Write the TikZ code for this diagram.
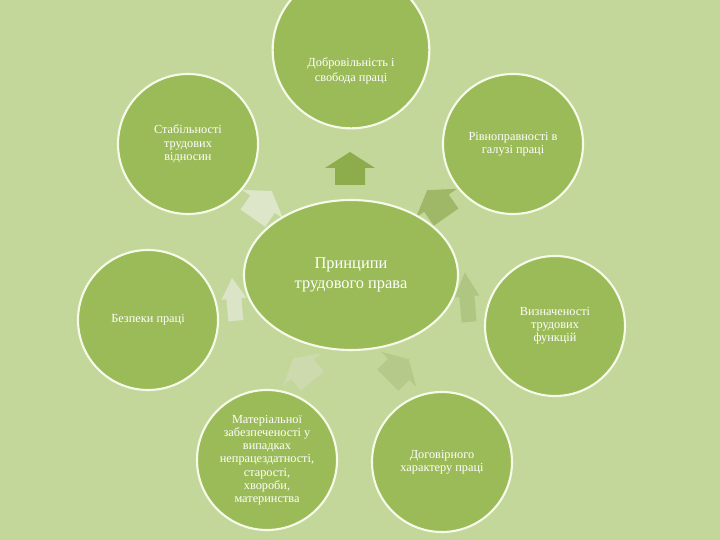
\documentclass[tikz,border=0pt]{standalone}
\usepackage{fontspec}
\setmainfont{Liberation Serif}
\usetikzlibrary{shapes.geometric}
\definecolor{lawbg}{RGB}{196,215,155}
\definecolor{lawgreen}{RGB}{155,187,89}
\definecolor{lawdark}{RGB}{141,172,76}
\definecolor{lawrim}{RGB}{246,250,232}

\tikzset{
  bubble/.style={circle,fill=lawgreen,draw=lawrim,line width=1.8pt,minimum size=4.2cm,
    inner sep=0pt,text=white,align=center,font=\fontsize{10.5}{11.3}\selectfont},
  caption/.style={text=white,align=center,font=\fontsize{10.5}{13.5}\selectfont}
}

\begin{document}
\begin{tikzpicture}[x=0.03cm,y=-0.03cm]
        \fill[lawbg] (0,0) rectangle (720,540);
        \useasboundingbox (0,0) rectangle (720,540);
        % fading arrows round the centre
        \foreach \x/\y/\r/\sx/\sy/\c in {350/169/0/1/1/100, 437/204/35/1/1/85, 467/298/5/.5/1.5/70,
            398/370/-45/1/.9/65, 303/370/40/1/.9/45, 234/300/5/.5/1.3/32, 262/205/-35/1/1/30}{
            \fill[lawdark!\c!white,shift={(\x,\y)},rotate=\r,xscale=\sx,yscale=\sy]
              (0,-17) -- (25,-1) -- (15,-1) -- (15,16) -- (-15,16) -- (-15,-1) -- (-25,-1) -- cycle;}
        \node[ellipse,fill=lawgreen,draw=lawrim,line width=1.8pt,minimum width=6.42cm,minimum height=4.5cm,
          inner sep=0pt,text=white,align=center,font=\fontsize{14}{16.5}\selectfont] (centre) at (351,275)
          {Принципи\\трудового права};
        \node[bubble,minimum size=4.7cm] (free) at (351,50) {};
        \node[caption] (freetext) at (351,71) {Добровільність і\\свобода праці};
        \node[bubble] (stable) at (188,144) {Стабільності\\трудових\\відносин};
        \node[bubble] (equal) at (513,144) {Рівноправності в\\галузі праці};
        \node[bubble] (safe) at (148,320) {Безпеки праці};
        \node[bubble] (funct) at (555,326) {Визначеності\\трудових\\функцій};
        \node[bubble] (money) at (267,460) {Матеріальної\\забезпеченості у\\випадках\\непрацездатності,\\старості,\\хвороби,\\материнства};
        \node[bubble] (deal) at (442,462) {Договірного\\характеру праці};
      \end{tikzpicture}
\end{document}
